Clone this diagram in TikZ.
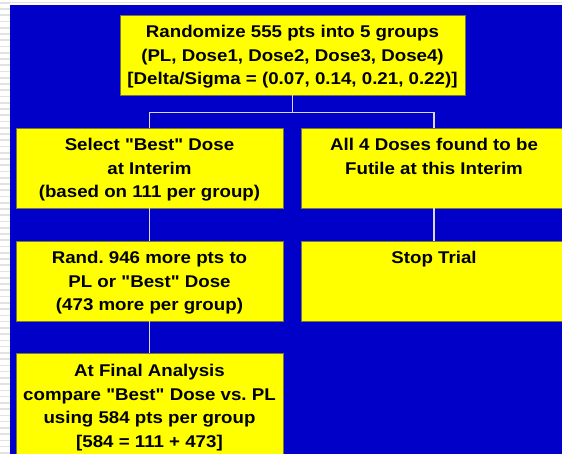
\documentclass[tikz,border=0pt]{standalone}
\usepackage{fontspec}
\newfontfamily\boxfont[FakeStretch=1.1]{Liberation Sans}
\definecolor{bgblue}{RGB}{0,0,200}
\definecolor{boxyellow}{RGB}{255,255,0}
\definecolor{boxedge}{RGB}{120,120,60}
\definecolor{linkgray}{RGB}{215,215,235}
\definecolor{stripe}{RGB}{226,226,226}
\tikzset{
  box/.style={draw=boxedge, line width=0.8pt, fill=boxyellow, inner sep=0pt},
  txt/.style={anchor=north, inner sep=0pt, align=center, text=black,
              font=\boxfont\bfseries\frenchspacing\fontsize{17}{23.5}\selectfont},
  conn/.style={draw=linkgray, line width=1.4pt}
}
\newcommand{\firstline}{\rule{0pt}{17pt}}
\begin{document}
\begin{tikzpicture}[x=1pt, y=-1pt]
  \useasboundingbox (0,0) rectangle (562,454);
  \clip (0,0) rectangle (562,454);
  % page frame: white margin strips and the blue slide area
  \fill[white] (0,0) rectangle (562,454);
  \foreach \k in {0,...,72} {
    \fill[stripe] (0,{2+6.25*\k}) rectangle (10,{3.6+6.25*\k});
  }
  \fill[stripe] (10,2) rectangle (562,3.4);
  \fill[bgblue] (10,5) rectangle (562,454);

  % boxes
  \node[box, minimum width=345pt, minimum height=80pt] (top)  at (292.5,55)  {};
  \node[box, minimum width=267pt, minimum height=80pt] (sel)  at (149.5,168) {};
  \node[box, minimum width=266pt, minimum height=80pt] (fut)  at (434,168)   {};
  \node[box, minimum width=267pt, minimum height=80pt] (rnd)  at (149.5,281) {};
  \node[box, minimum width=266pt, minimum height=80pt] (stop) at (434,281)   {};
  \node[box, minimum width=267pt, minimum height=110pt] (fin) at (149.5,408) {};

  % connectors
  \draw[conn] (top.south) -- ++(0,17) -| (sel.north);
  \draw[conn] (top.south) -- ++(0,17) -| (fut.north);
  \draw[conn] (sel.south) -- (rnd.north);
  \draw[conn] (fut.south) -- (stop.north);
  \draw[conn] (rnd.south) -- (fin.north);

  % box texts
  \node[txt] (ttop) at ([yshift=-6pt]top.north)
    {\firstline Randomize 555 pts into 5 groups\\(PL, Dose1, Dose2, Dose3, Dose4)\\{[Delta/Sigma = (0.07, 0.14, 0.21, 0.22)]}};
  \node[txt] (tsel) at ([yshift=-6pt]sel.north)
    {\firstline Select "Best" Dose\\at Interim\\(based on 111 per group)};
  \node[txt] (tfut) at ([yshift=-6pt]fut.north)
    {\firstline All 4 Doses found to be\\Futile at this Interim};
  \node[txt] (trnd) at ([yshift=-6pt]rnd.north)
    {\firstline Rand. 946 more pts to\\PL or "Best" Dose\\(473 more per group)};
  \node[txt] (tstop) at ([yshift=-6pt]stop.north)
    {\firstline Stop Trial};
  \node[txt] (tfin) at ([yshift=-7pt]fin.north)
    {\firstline At Final Analysis\\compare "Best" Dose vs. PL\\using 584 pts per group\\{[584 = 111 + 473]}};
\end{tikzpicture}
\end{document}
